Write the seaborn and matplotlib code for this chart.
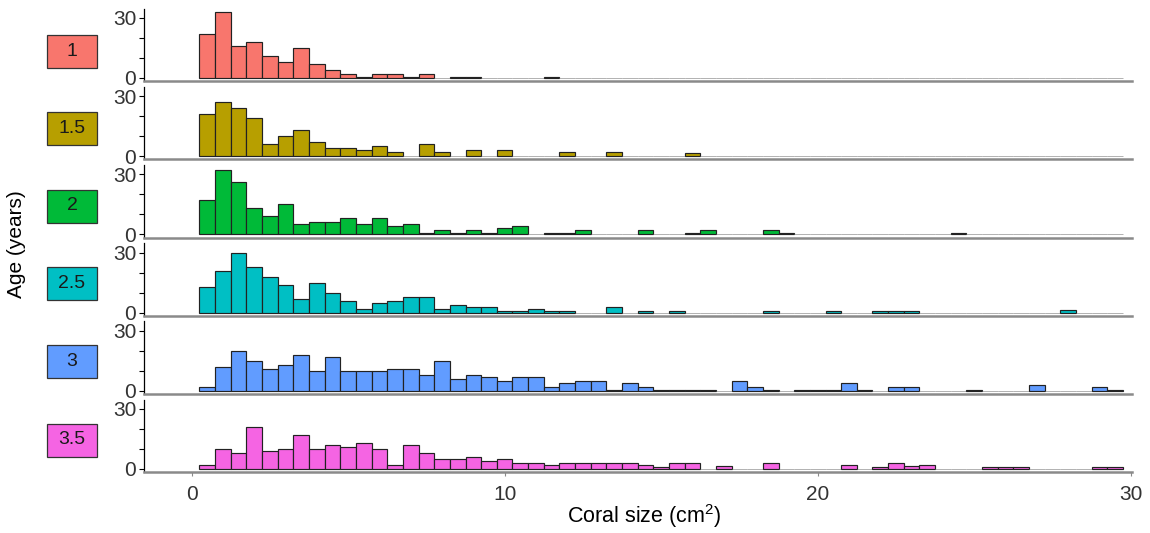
import numpy as np
import pandas as pd
import matplotlib
matplotlib.use("Agg")
import matplotlib.pyplot as plt
import seaborn as sns
from matplotlib.patches import Rectangle

# Ages (facet rows) and ggplot-style hue colours
ages = ["1", "1.5", "2", "2.5", "3", "3.5"]
age_colors = ["#F8766D", "#B79F00", "#00BA38", "#00BFC4", "#619CFF", "#F564E3"]

# Histogram bins: width 0.5 cm2, from 0.25 to 29.75
bin_edges = list(np.arange(0.25, 29.76, 0.5))
bin_centers = [e + 0.25 for e in bin_edges[:-1]]

# Counts per bin (59 bins each)
counts_1 = [22, 33, 16, 18, 11, 8, 15, 7, 4, 2,
            0.5, 2, 2, 0.5, 2, 0, 0.5, 0.5, 0, 0,
            0, 0, 0.5, 0, 0, 0, 0, 0, 0, 0,
            0, 0, 0, 0, 0, 0, 0, 0, 0, 0,
            0, 0, 0, 0, 0, 0, 0, 0, 0, 0,
            0, 0, 0, 0, 0, 0, 0, 0, 0]
counts_15 = [21, 27, 24, 19, 6, 10, 13, 7, 4, 4,
             3, 5, 2, 0, 6, 2, 0, 3, 0, 3,
             0, 0, 0, 2, 0, 0, 2, 0, 0, 0,
             0, 1.5, 0, 0, 0, 0, 0, 0, 0, 0,
             0, 0, 0, 0, 0, 0, 0, 0, 0, 0,
             0, 0, 0, 0, 0, 0, 0, 0, 0]
counts_2 = [17, 32, 26, 13, 9, 15, 5, 6, 6, 8,
            5, 8, 4, 5, 0.5, 2, 0.5, 2, 0.5, 3,
            4, 0, 0.5, 0.5, 2, 0, 0, 0, 2, 0,
            0, 0.5, 2, 0, 0, 0, 2, 0.5, 0, 0,
            0, 0, 0, 0, 0, 0, 0, 0, 0.5, 0,
            0, 0, 0, 0, 0, 0, 0, 0, 0]
counts_25 = [13, 21, 30, 23, 18, 14, 7, 15, 10, 6,
             2, 5, 6, 8, 8, 2, 4, 3, 3, 1,
             1, 2, 1, 1, 0, 0, 3, 0, 1, 0,
             1, 0, 0, 0, 0, 0, 1, 0, 0, 0,
             1, 0, 0, 1, 1, 1, 0, 0, 0, 0,
             0, 0, 0, 0, 0, 1.5, 0, 0, 0]
counts_3 = [2, 12, 20, 15, 11, 13, 18, 10, 17, 10,
            10, 10, 11, 11, 8, 15, 6, 8, 7, 5,
            7, 7, 2, 4, 5, 5, 0.5, 4, 2, 0.5,
            0.5, 0.5, 0.5, 0, 5, 2, 0.5, 0, 0.5, 0.5,
            0.5, 4, 0.5, 0, 2, 2, 0, 0, 0, 0.5,
            0, 0, 0, 3, 0, 0, 0, 2, 0.5]
counts_35 = [2, 10, 8, 21, 9, 10, 17, 10, 12, 11,
             13, 10, 2, 12, 8, 5, 5, 6, 4, 5,
             3, 3, 2, 3, 3, 3, 3, 3, 2, 1,
             3, 3, 0, 1.5, 0, 0, 3, 0, 0, 0,
             0, 2, 0, 1, 3, 1.5, 2, 0, 0, 0,
             1, 1, 1, 0, 0, 0, 0, 1, 1]

all_counts = [counts_1, counts_15, counts_2, counts_25, counts_3, counts_35]

df = pd.concat([
    pd.DataFrame({"age": age, "size": bin_centers, "n": cnt})
    for age, cnt in zip(ages, all_counts)
], ignore_index=True)

sns.set_style("white")
plt.rcParams["font.family"] = ["Liberation Sans", "DejaVu Sans"]
plt.rcParams["mathtext.fontset"] = "custom"
plt.rcParams["mathtext.rm"] = "Liberation Sans"
plt.rcParams["mathtext.it"] = "Liberation Sans"

fig, axes = plt.subplots(6, 1, figsize=(11.5, 5.33), dpi=100, sharex=True)
fig.subplots_adjust(left=0.1252, right=0.9841, top=0.9837, bottom=0.1139, hspace=0.077)

box_centers_px = [51, 129, 206, 283, 361, 440]

for i, (ax, age, color) in enumerate(zip(axes, ages, age_colors)):
    sub = df[df["age"] == age]
    sns.histplot(data=sub, x="size", weights="n", bins=bin_edges, color=color,
                 alpha=1, edgecolor="#222222", linewidth=0.85, ax=ax)
    # empty bins: thin grey outline only
    for p in ax.patches:
        if p.get_height() == 0:
            p.set_edgecolor("#777777")
            p.set_linewidth(0.4)

    ax.set_xlim(-1.52, 30.03)
    ax.set_ylim(-1.65, 34.65)
    ax.set_yticks([0, 10, 20, 30], labels=["0", "", "", "30"])
    ax.set_ylabel("")
    ax.set_xlabel("")
    for s in ["top", "right"]:
        ax.spines[s].set_visible(False)
    ax.spines["left"].set_color("black")
    ax.spines["left"].set_linewidth(0.9)
    ax.spines["bottom"].set_color("#8a8a8a")
    ax.spines["bottom"].set_linewidth(1.8)
    ax.tick_params(axis="y", direction="out", length=3.5, width=0.8, color="black",
                   labelsize=15, labelcolor="#333333", pad=2, left=True)
    if i < 5:
        ax.tick_params(axis="x", bottom=False, labelbottom=False)
    else:
        ax.set_xticks([0, 10, 20, 30])
        ax.tick_params(axis="x", direction="out", length=3, width=0.8, color="#8a8a8a",
                       labelsize=15, labelcolor="#333333", pad=6, bottom=True)

    # strip label box on the left
    cy = 1 - box_centers_px[i] / 533
    fig.patches.append(Rectangle((47 / 1150, cy - 16.5 / 533), 50 / 1150, 33 / 533,
                                 transform=fig.transFigure, facecolor=color,
                                 edgecolor="#333333", linewidth=0.9))
    fig.text(72 / 1150, cy, age, ha="center", va="center", fontsize=14, color="#1a1a1a")

fig.text(17 / 1150, 1 - 244 / 533, "Age (years)", rotation=90, ha="center", va="center",
         fontsize=15, color="black")
fig.text(644 / 1150, 1 - 516 / 533, "Coral size (cm$^2$)", ha="center", va="center",
         fontsize=15.5, color="black")

plt.savefig("out.png", dpi=100)
